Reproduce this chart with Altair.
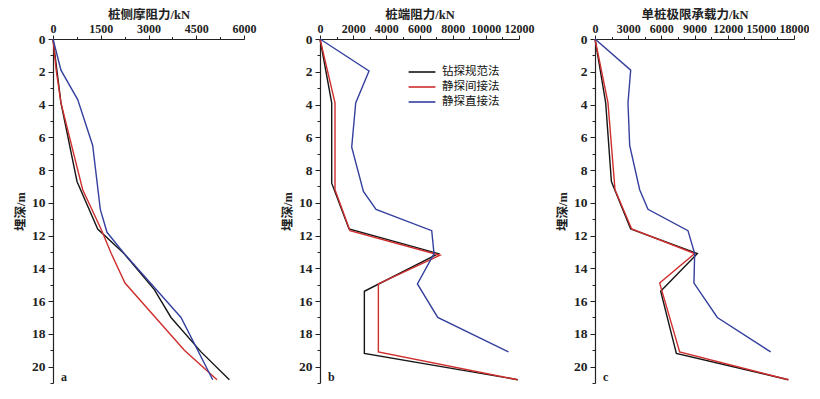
import altair as alt
import pandas as pd

SERIES = ["钻探规范法", "静探间接法", "静探直接法"]
COLORS = ["#151515", "#cf2e2e", "#35409e"]

# ---- panel a : 桩侧摩阻力 ----
a_black_depth = [0, 3.9, 8.7, 11.6, 13.1, 15.3, 17.0, 19.1, 20.8]
a_black_value = [0, 250, 754, 1404, 2230, 3183, 3707, 4650, 5540]
a_red_depth = [0, 1.9, 3.9, 9.2, 11.6, 13.1, 14.9, 19.0, 20.8]
a_red_value = [0, 100, 250, 933, 1508, 1830, 2262, 4126, 5152]
a_blue_depth = [0, 1.9, 3.7, 6.5, 10.4, 11.8, 13.1, 17.0, 20.8]
a_blue_value = [0, 250, 776, 1247, 1486, 1696, 2240, 4021, 5017]

# ---- panel b : 桩端阻力 ----
b_black_depth = [0, 3.9, 8.8, 11.6, 13.1, 15.4, 19.2, 20.8]
b_black_value = [0, 705, 705, 1750, 7140, 2675, 2675, 11925]
b_red_depth = [0, 3.9, 9.2, 11.7, 13.2, 14.95, 19.1, 20.8]
b_red_value = [0, 905, 905, 1810, 7240, 3520, 3520, 11925]
b_blue_depth = [0, 1.95, 3.9, 6.6, 9.3, 10.4, 11.7, 13.1, 14.95, 17.0, 19.1]
b_blue_value = [0, 2955, 2153, 1912, 2618, 3378, 6737, 6876, 5874, 7099, 11363]

# ---- panel c : 单桩极限承载力 ----
c_black_depth = [0, 3.9, 8.7, 11.6, 13.1, 15.4, 19.2, 20.8]
c_black_value = [0, 967, 1483, 3228, 9259, 5940, 7360, 17487]
c_red_depth = [0, 3.9, 9.2, 11.6, 13.1, 14.9, 19.1, 20.8]
c_red_value = [0, 1175, 1808, 3318, 9014, 5850, 7658, 17487]
c_blue_depth = [0, 1.9, 3.9, 6.5, 9.2, 10.4, 11.7, 13.1, 14.9, 17.0, 19.1]
c_blue_value = [0, 3228, 2984, 3137, 4041, 4792, 8409, 9014, 8951, 11067, 15886]

PANEL_TITLES = ["桩侧摩阻力/kN", "桩端阻力/kN", "单桩极限承载力/kN"]
PANEL_XMAX = [6000, 12000, 18000]
PANEL_XSTEP = [1500, 2000, 3000]
PANEL_LETTERS = ["a", "b", "c"]
Y_TITLE = "埋深/m"
Y_MAX = 21

FONT = "Liberation Serif, Noto Sans CJK SC"
CJK = "Noto Sans CJK SC"
H = 344


def frame(groups):
    rows = []
    for name, depths, values in groups:
        for i, (d, v) in enumerate(zip(depths, values)):
            rows.append({"depth": d, "value": v, "series": name, "order": i})
    return pd.DataFrame(rows)


def panel(df, idx, width, show_legend):
    xmax, xstep = PANEL_XMAX[idx], PANEL_XSTEP[idx]
    xticks = list(range(0, xmax + 1, xstep // 2))
    if show_legend:
        legend = alt.Legend(
            orient="none", legendX=94, legendY=25, title=None,
            symbolType="M-2,0L2,0", symbolSize=180, symbolStrokeWidth=1.6,
            labelFont=CJK, labelFontSize=11.5, labelColor="#111",
            rowPadding=1, labelOffset=12,
        )
    else:
        legend = None
    lines = alt.Chart(df).mark_line(strokeWidth=1.4).encode(
        x=alt.X(
            "value:Q",
            scale=alt.Scale(domain=[0, xmax], nice=False),
            axis=alt.Axis(
                orient="top", title=PANEL_TITLES[idx], values=xticks, format="d",
                labelExpr=f"datum.value % {xstep} === 0 ? datum.label : ''",
                tickSize={"condition": {"test": f"datum.value % {xstep} === 0", "value": 4}, "value": 2.5},
                labelFlush=False, labelOverlap=False, labelPadding=0, titlePadding=1,
                labelFontSize=12,
            ),
        ),
        y=alt.Y(
            "depth:Q",
            scale=alt.Scale(domain=[0, Y_MAX], reverse=True, nice=False),
            axis=alt.Axis(
                title=Y_TITLE, values=list(range(0, Y_MAX + 1)), format="d",
                labelExpr="datum.value % 2 === 0 ? datum.label : ''",
                tickSize={"condition": {"test": "datum.value % 2 === 0", "value": 5}, "value": 3},
                labelOverlap=False, labelPadding=3, titlePadding=4, labelFontSize=13.5,
            ),
        ),
        color=alt.Color("series:N", scale=alt.Scale(domain=SERIES, range=COLORS), legend=legend),
        order="order:Q",
    )
    letter = alt.Chart(pd.DataFrame({"t": [PANEL_LETTERS[idx]]})).mark_text(
        align="left", baseline="middle", font="Liberation Serif", fontSize=12, fontWeight="bold", color="#222"
    ).encode(text="t:N", x=alt.value(8), y=alt.value(H - 6))
    return alt.layer(lines, letter).properties(width=width, height=H)


pa = panel(frame([(SERIES[0], a_black_depth, a_black_value),
                  (SERIES[1], a_red_depth, a_red_value),
                  (SERIES[2], a_blue_depth, a_blue_value)]), 0, 191, False)
pb = panel(frame([(SERIES[0], b_black_depth, b_black_value),
                  (SERIES[1], b_red_depth, b_red_value),
                  (SERIES[2], b_blue_depth, b_blue_value)]), 1, 199, True)
pc = panel(frame([(SERIES[0], c_black_depth, c_black_value),
                  (SERIES[1], c_red_depth, c_red_value),
                  (SERIES[2], c_blue_depth, c_blue_value)]), 2, 199, False)

chart = alt.hconcat(pa, pb, pc, spacing=76, bounds="flush").resolve_scale(
    color="independent"
).properties(
    padding={"left": 6, "top": 0, "right": 0, "bottom": 0}, background="white"
).configure_view(stroke=None).configure_axis(
    grid=False, domainColor="#222", tickColor="#222", domainWidth=1.2, tickWidth=1,
    labelFont="Liberation Serif", labelFontWeight="bold", labelColor="#222",
    titleFont=FONT, titleFontWeight="bold", titleFontSize=12.5, titleColor="#222",
)

chart.save("out.html", embed_options={"renderer": "svg", "actions": False})
